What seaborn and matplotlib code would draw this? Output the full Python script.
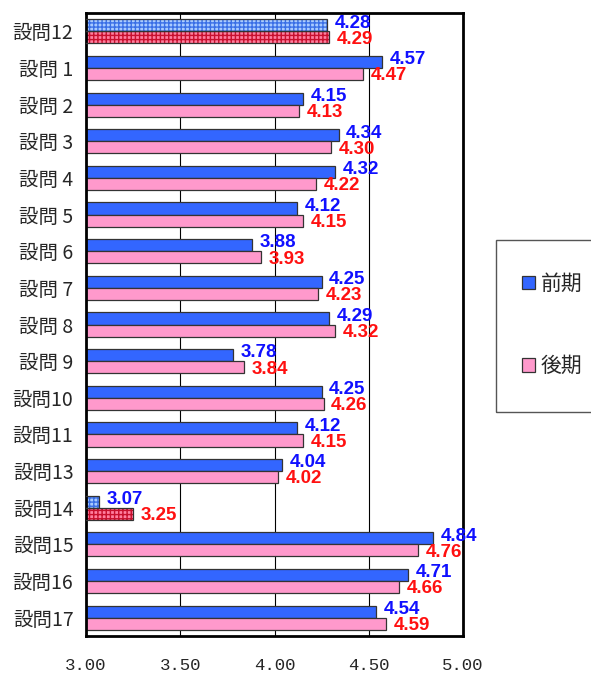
import numpy as np
import pandas as pd
import seaborn as sns
import matplotlib.pyplot as plt
from matplotlib.patches import Rectangle, Patch

questions = ["設問12", "設問 1", "設問 2", "設問 3", "設問 4", "設問 5", "設問 6",
             "設問 7", "設問 8", "設問 9", "設問10", "設問11", "設問13", "設問14",
             "設問15", "設問16", "設問17"]
zenki = [4.28, 4.57, 4.15, 4.34, 4.32, 4.12, 3.88, 4.25, 4.29, 3.78, 4.25,
         4.12, 4.04, 3.07, 4.84, 4.71, 4.54]
kouki = [4.29, 4.47, 4.13, 4.30, 4.22, 4.15, 3.93, 4.23, 4.32, 3.84, 4.26,
         4.15, 4.02, 3.25, 4.76, 4.66, 4.59]
periods = ["前期", "後期"]
hatched_rows = ["設問12", "設問14"]
xticks = [3.00, 3.50, 4.00, 4.50, 5.00]

df = pd.DataFrame({
    "q": questions * 2,
    "val": zenki + kouki,
    "period": [periods[0]] * len(questions) + [periods[1]] * len(questions),
})

sns.set_style("white")
plt.rcParams['font.family'] = ['Noto Sans CJK JP', 'DejaVu Sans']

bar_cols = ["#3366ff", "#ff99cc"]
hatch_face = ["#a9cbff", "#ff7f9f"]
hatch_col = ["#3a6fe6", "#c8102e"]
txt_cols = ["#1010ff", "#ff1010"]

fig = plt.figure(figsize=(5.91, 6.73), dpi=100)
ax = fig.add_axes([86/591, 1 - 636/673, (463 - 86)/591, (636 - 13)/673])

sns.barplot(data=df, y="q", x="val", hue="period", orient="h",
            palette=bar_cols, width=0.66, ax=ax, legend=False,
            edgecolor="#333333", linewidth=0.9, saturation=1)

ax.set_xlim(3, 5)
for i, cont in enumerate(ax.containers):
    for q, bar in zip(questions, cont):
        if q in hatched_rows:
            bar.set_facecolor(hatch_face[i])
            bar.set_hatch("++++")
            bar.set_edgecolor(hatch_col[i])
            bar.set_linewidth(0)
            # outline on top
            ax.add_patch(Rectangle(bar.get_xy(), bar.get_width(), bar.get_height(),
                                   fill=False, edgecolor="#333333", lw=0.9, zorder=3))
        w = bar.get_x() + bar.get_width()
        yc = bar.get_y() + bar.get_height() / 2
        dy = -0.06 if i == 0 else 0.05
        ax.text(w + 0.04, yc + dy, f"{w:.2f}", color=txt_cols[i],
                fontsize=13.5, fontweight="bold", ha="left", va="center",
                family="Liberation Sans", zorder=4, clip_on=False)

ax.set_xticks(xticks)
ax.set_xticklabels([f"{t:.2f}" for t in xticks], fontsize=12.5,
                   family="Liberation Mono")
ax.tick_params(axis="x", length=0, pad=16)
ax.tick_params(axis="y", length=0, pad=9, labelsize=14)
ax.grid(axis="x", color="black", linewidth=0.8)
ax.set_axisbelow(True)
ax.set_xlabel("")
ax.set_ylabel("")
for s in ax.spines.values():
    s.set_color("black")
    s.set_linewidth(2)
    s.set_visible(True)

# legend frame
fig.patches.append(Rectangle((496/591, 1 - 412/673), 0.3, 172/673,
                             transform=fig.transFigure, fill=False,
                             edgecolor="#555555", lw=1))
handles = [Patch(facecolor=c, edgecolor="#333333", lw=0.9) for c in bar_cols]
fig.legend(handles, periods, loc="center left",
           bbox_to_anchor=(503/591, 1 - 325/673), frameon=False,
           fontsize=15, labelspacing=2.9, handlelength=0.65, handleheight=0.65,
           handletextpad=0.25)

fig.savefig("out.png", dpi=100)
